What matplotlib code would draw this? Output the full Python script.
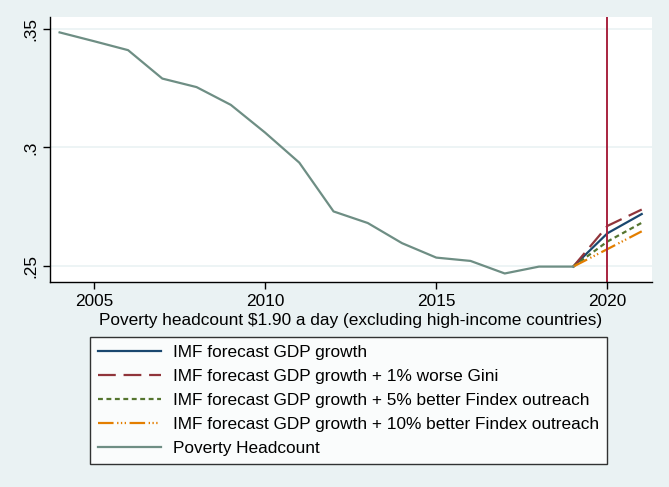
import matplotlib.pyplot as plt
import matplotlib.ticker as mticker

plt.rcParams['font.family'] = ['Liberation Sans', 'DejaVu Sans']

# poverty headcount, $1.90 a day
years = [2004, 2005, 2006, 2007, 2008, 2009, 2010, 2011, 2012, 2013,
         2014, 2015, 2016, 2017, 2018, 2019]
headcount = [0.3486, 0.3449, 0.3411, 0.3291, 0.3255, 0.3180, 0.3063, 0.2936,
             0.2730, 0.2681, 0.2596, 0.2535, 0.2521, 0.2468, 0.2497, 0.2497]

# forecast scenarios from 2019
fc_years = [2019, 2020, 2021]
imf_gdp = [0.2497, 0.2638, 0.2719]
worse_gini = [0.2497, 0.2669, 0.2738]
findex_5 = [0.2497, 0.2603, 0.2682]
findex_10 = [0.2497, 0.2571, 0.2646]

bg = '#eaf2f3'
fs = 12.4
fig = plt.figure(figsize=(6.69, 4.87), dpi=100, facecolor=bg)
ax = fig.add_axes([50 / 669, 1 - 282 / 487, 602 / 669, 265 / 487])
ax.set_facecolor('white')

l1, = ax.plot(fc_years, imf_gdp, color='#1a476f', lw=1.6)
l2, = ax.plot(fc_years, worse_gini, color='#90353b', lw=1.6, dashes=(8, 3.5))
l3, = ax.plot(fc_years, findex_5, color='#55752f', lw=1.6, dashes=(2.2, 1.6))
l4, = ax.plot(fc_years, findex_10, color='#e37e00', lw=1.6,
              dashes=(7, 1.6, 0.6, 1.1, 0.6, 1.1, 0.6, 1.6))
l5, = ax.plot(years, headcount, color='#6e8e84', lw=1.6)
ax.axvline(2020, color='#a8243f', lw=1.4)

ax.set_xlim(2003.72, 2021.3)
ax.set_ylim(0.2432, 0.3551)
ax.set_xticks([2005, 2010, 2015, 2020])
ax.set_yticks([0.25, 0.3, 0.35])
ax.yaxis.set_major_formatter(mticker.FuncFormatter(
    lambda v, p: ('%g' % round(v, 2)).lstrip('0')))
for lab in ax.get_yticklabels():
    lab.set_rotation(90)
    lab.set_va('center')
ax.tick_params(labelsize=fs, length=5, width=1, color='black')
ax.grid(axis='y', color=bg, lw=1.2)
ax.set_axisbelow(True)
for side in ['top', 'right']:
    ax.spines[side].set_visible(False)
for side in ['left', 'bottom']:
    ax.spines[side].set_linewidth(1)
ax.set_xlabel('Poverty headcount \\$1.90 a day (excluding high-income countries)',
              fontsize=fs, labelpad=3)

leg = fig.legend([l1, l2, l3, l4, l5],
                 ['IMF forecast GDP growth',
                  'IMF forecast GDP growth + 1% worse Gini',
                  'IMF forecast GDP growth + 5% better Findex outreach',
                  'IMF forecast GDP growth + 10% better Findex outreach',
                  'Poverty Headcount'],
                 loc='upper left', bbox_to_anchor=(90 / 669, 1 - 337 / 487),
                 fontsize=fs, frameon=True, fancybox=False, handlelength=3.7,
                 labelspacing=0.52, borderpad=0.45, handletextpad=0.65,
                 borderaxespad=0)
leg.get_frame().set_edgecolor('black')
leg.get_frame().set_linewidth(1)

fig.savefig('out.png', dpi=100, facecolor=bg)
